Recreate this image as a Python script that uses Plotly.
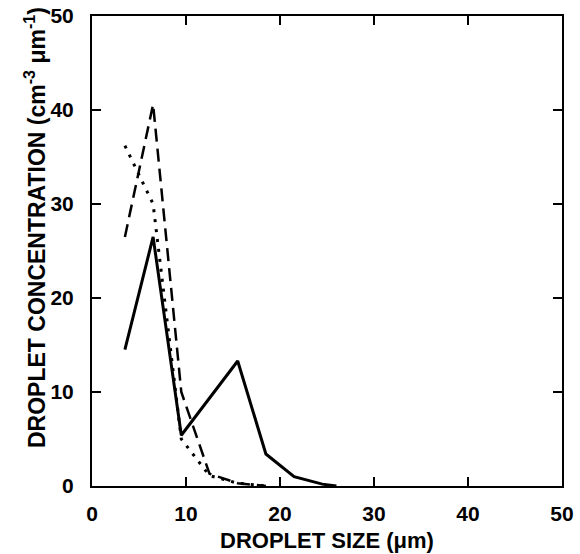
import plotly.graph_objects as go

x_solid = [3.5, 6.5, 9.5, 15.5, 18.5, 21.5, 24.5, 26.0]
y_solid = [14.5, 26.5, 5.4, 13.3, 3.4, 1.0, 0.2, 0.0]

x_dash = [3.5, 6.5, 9.5, 12.5, 15.5, 18.5]
y_dash = [26.5, 40.6, 10.0, 1.3, 0.3, 0.0]

x_dot = [3.5, 6.5, 9.5, 12.5, 15.5, 18.5]
y_dot = [36.2, 30.0, 5.0, 1.1, 0.3, 0.0]

x_ticks = [0, 10, 20, 30, 40, 50]
y_ticks = [0, 10, 20, 30, 40, 50]

W, H = 580, 554
ML, MR, MT, MB = 92, 18, 16, 68
PW, PH = W - ML - MR, H - MT - MB

fig = go.Figure()
fig.add_trace(go.Scatter(x=x_dot, y=y_dot, mode="lines",
                         line=dict(color="black", width=3, dash="3px,7px")))
fig.add_trace(go.Scatter(x=x_dash, y=y_dash, mode="lines",
                         line=dict(color="black", width=2.5, dash="13px,7px")))
fig.add_trace(go.Scatter(x=x_solid, y=y_solid, mode="lines",
                         line=dict(color="black", width=3)))

font_family = "Liberation Sans, Arial, sans-serif"
axis_common = dict(
    showgrid=False, zeroline=False, showline=True, linecolor="black", linewidth=2,
    mirror="ticks", ticks="inside", ticklen=9, tickwidth=1.5, tickcolor="black",
    tickfont=dict(family=font_family, size=21, color="black", weight="bold"),
)
fig.update_xaxes(range=[0, 50], tickvals=x_ticks, ticktext=[str(v) for v in x_ticks],
                 ticklabelstandoff=8,
                 title=dict(text="<b>DROPLET SIZE (μm)</b>", standoff=8,
                            font=dict(family=font_family, size=22, color="black")),
                 **axis_common)
fig.update_yaxes(range=[0, 50], tickvals=y_ticks, ticktext=[str(v) for v in y_ticks],
                 ticklabelstandoff=12, **axis_common)
fig.add_annotation(
    text="<b>DROPLET CONCENTRATION (cm<sup>-3</sup> μm<sup>-1</sup>)</b>",
    xref="paper", yref="paper",
    x=(35 - ML) / PW, y=(MT + PH - 228) / PH,
    xanchor="center", yanchor="middle", textangle=-90, showarrow=False,
    font=dict(family=font_family, size=23, color="black"),
)
fig.update_layout(
    width=W, height=H, showlegend=False,
    plot_bgcolor="white", paper_bgcolor="white",
    margin=dict(l=ML, r=MR, t=MT, b=MB, autoexpand=False),
)
fig.write_html("out.html", config={"displayModeBar": False},
               post_script="document.body.style.margin='0';document.body.style.overflow='hidden';")
